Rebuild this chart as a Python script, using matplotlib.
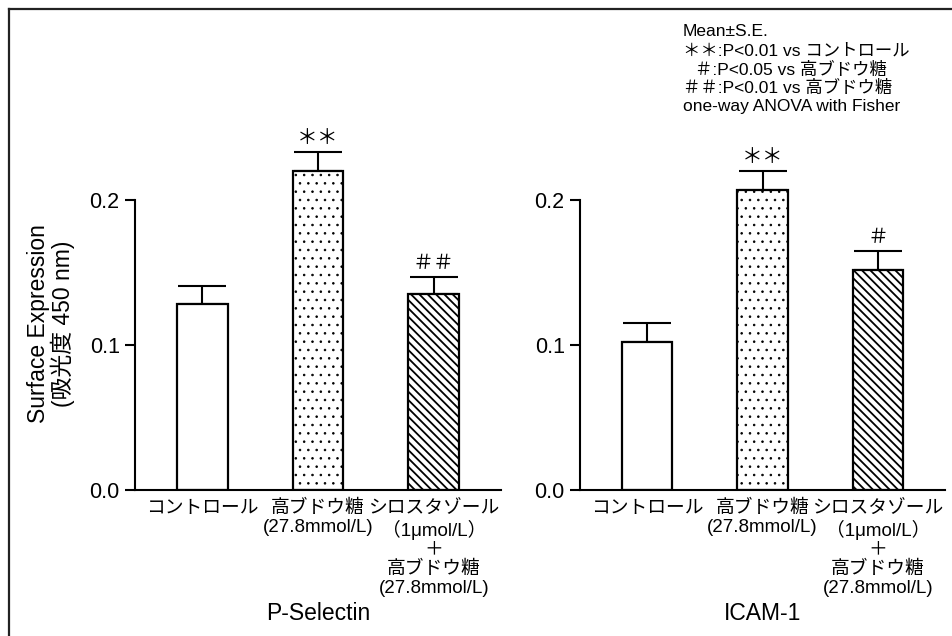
import matplotlib
matplotlib.use("Agg")
import matplotlib.pyplot as plt
from matplotlib import transforms
from matplotlib.lines import Line2D

plt.rcParams['font.family'] = ['Liberation Sans', 'Noto Sans CJK JP']
plt.rcParams['hatch.color'] = 'black'

# --- data -------------------------------------------------------------
categories = [
    "コントロール",
    "高ブドウ糖\n(27.8mmol/L)",
    "シロスタゾール\n（1μmol/L）\n＋\n高ブドウ糖\n(27.8mmol/L)",
]
panels = ["P-Selectin", "ICAM-1"]
p_selectin_mean = [0.128, 0.220, 0.135]
p_selectin_se = [0.013, 0.013, 0.012]
icam1_mean = [0.102, 0.207, 0.152]
icam1_se = [0.013, 0.013, 0.013]
p_selectin_marks = ["", "＊＊", "＃＃"]
icam1_marks = ["", "＊＊", "＃"]
yticks = [0.0, 0.1, 0.2]
ytick_labels = ["0.0", "0.1", "0.2"]
legend_lines = [
    "Mean±S.E.",
    "＊＊:P<0.01 vs コントロール",
    "＃:P<0.05 vs 高ブドウ糖",
    "＃＃:P<0.01 vs 高ブドウ糖",
    "one-way ANOVA with Fisher",
]

W, H = 952, 636
fig = plt.figure(figsize=(W / 100, H / 100), dpi=100)

hatches = [None, '..', '\\\\\\\\']
hatch_lw = [1.0, 0.6, 1.3]


def draw_panel(left_px, right_px, means, errs, marks, title):
    bottom_px, top_px = 490, 490 - 0.245 * 1450
    ax = fig.add_axes([left_px / W, (H - bottom_px) / H,
                       (right_px - left_px) / W, (bottom_px - top_px) / H])
    x = list(range(len(categories)))
    for xi, m, h, hlw in zip(x, means, hatches, hatch_lw):
        with plt.rc_context({'hatch.linewidth': hlw}):
            bars = ax.bar(xi, m, width=0.44, color='white', edgecolor='black',
                          linewidth=1.6, hatch=h, zorder=2)
        for b in bars:
            if hasattr(b, 'set_hatch_linewidth'):
                b.set_hatch_linewidth(hlw)
    ax.errorbar(x, means, yerr=[[0] * len(errs), errs], fmt='none',
                ecolor='black', elinewidth=1.5, capsize=17, capthick=1.5,
                zorder=1)
    for xi, m, e, s in zip(x, means, errs, marks):
        if s:
            ax.annotate(s, (xi, m + e), xytext=(0, 10),
                        textcoords='offset points', ha='center', va='center',
                        fontsize=15, family=['Noto Sans CJK JP'])
    ax.set_xlim(-0.58, 2.58)
    ax.set_ylim(0, 0.245)
    for side in ('top', 'right'):
        ax.spines[side].set_visible(False)
    ax.spines['left'].set_bounds(0, 0.2)
    ax.spines['left'].set_linewidth(1.5)
    ax.spines['bottom'].set_linewidth(1.5)
    ax.set_yticks(yticks)
    ax.set_yticklabels(ytick_labels, fontsize=15.5)
    ax.tick_params(axis='y', length=7, width=1.5, pad=4)
    ax.set_xticks(x)
    ax.set_xticklabels(categories, fontsize=13.5, linespacing=1.17)
    ax.tick_params(axis='x', length=0, pad=7)
    tr = transforms.blended_transform_factory(ax.transData, fig.transFigure)
    ax.text(1, (H - 613) / H, title, transform=tr, ha='center', va='center',
            fontsize=16.5)
    return ax


ax1 = draw_panel(135, 501, p_selectin_mean, p_selectin_se, p_selectin_marks,
                 panels[0])
ax2 = draw_panel(580, 945, icam1_mean, icam1_se, icam1_marks, panels[1])

fig.text(51 / W, (H - 324) / H, "Surface Expression\n(吸光度 450 nm)",
         rotation=90, ha='center', va='center', fontsize=16.5,
         linespacing=1.05)

legend_y = [32, 51.5, 70, 88.5, 107]
legend_x = [683, 683, 695, 683, 683]
for txt, lx, ly in zip(legend_lines, legend_x, legend_y):
    fig.text(lx / W, (H - ly) / H, txt, ha='left', va='center', fontsize=12.5)

# outer frame (top and left edges)
fig.add_artist(Line2D([9 / W, 1.0], [1 - 8.5 / H, 1 - 8.5 / H],
                      transform=fig.transFigure, color='#222222', lw=1.6))
fig.add_artist(Line2D([9 / W, 9 / W], [0, 1 - 8.5 / H],
                      transform=fig.transFigure, color='#222222', lw=1.6))

fig.savefig("out.png", dpi=100)
